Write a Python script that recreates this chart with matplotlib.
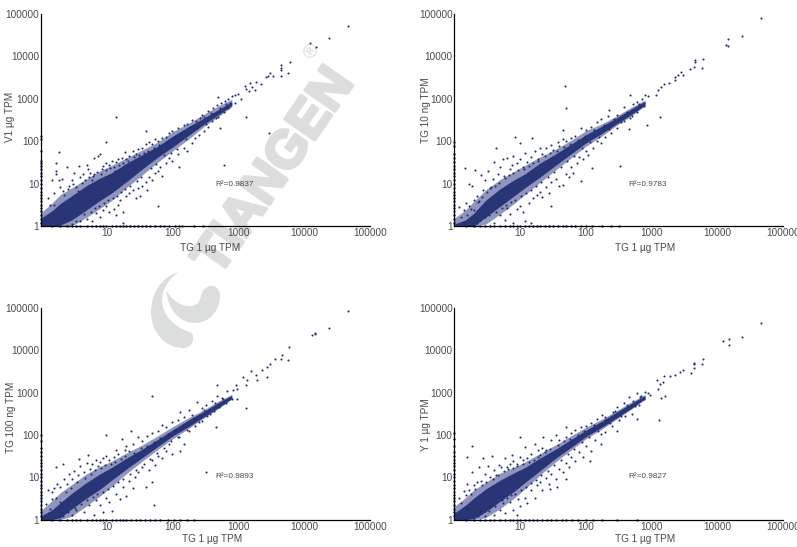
import matplotlib
matplotlib.use('Agg')
import matplotlib.pyplot as plt
import matplotlib.patheffects as pe
from matplotlib.path import Path
from matplotlib.patches import PathPatch

plt.rcParams['font.family'] = ['Liberation Sans', 'DejaVu Sans']

NAVY = '#1f2a6e'
GREY = '#4a4a4a'
MARK = '#dcdedd'
W, H = 797, 547

ticks = [10, 100, 1000, 10000, 100000]
tick_labels = ['10', '100', '1000', '10000', '100000']
y_ticks = [1] + ticks
y_tick_labels = ['1'] + tick_labels
x_title = 'TG 1 µg TPM'
y_titles = ['V1 µg TPM', 'TG 10 ng TPM', 'TG 100 ng TPM', 'Y 1 µg TPM']
r2_labels = ['R²=0.9837', 'R²=0.9783', 'R²=0.9893', 'R²=0.9827']

# outline of the crowded part of each cloud
band_x = [1, 1.5, 2, 3, 5, 8, 12, 20, 35, 60, 100, 180, 300, 500, 800]
outer_lo = [
    [1, 1, 1, 1, 1.6, 2.6, 4, 8, 16, 32, 58, 115, 220, 380, 650],
    [1, 1, 1, 1.1, 1.9, 3.3, 5.5, 10.5, 21, 40, 75, 135, 240, 400, 680],
    [1, 1, 1, 1.2, 2.1, 3.6, 6, 12, 24, 45, 80, 145, 250, 420, 700],
    [1, 1, 1, 1.1, 1.8, 3.1, 5.3, 11, 23, 44, 80, 140, 240, 410, 690],
]
outer_hi = [
    [2, 3.5, 5.5, 8, 13, 20, 27, 40, 62, 95, 165, 270, 430, 680, 980],
    [1.5, 2.4, 3.8, 7, 12.5, 19, 27, 42, 65, 105, 175, 260, 400, 640, 930],
    [1.6, 2.8, 4.3, 6.8, 12, 18, 24, 37, 58, 95, 155, 260, 390, 630, 910],
    [2, 3.3, 5, 7.5, 12.5, 17, 23, 36, 58, 95, 150, 240, 380, 610, 900],
]
core_lo = [
    [1, 1, 1.05, 1.4, 2.4, 4, 6, 11, 22, 42, 72, 140, 250, 420, 700],
    [1, 1, 1, 1.6, 2.9, 5, 8, 14, 27, 50, 90, 155, 260, 430, 720],
    [1, 1, 1.1, 1.8, 3.2, 5.2, 8.5, 15.5, 29, 53, 93, 160, 265, 440, 730],
    [1, 1, 1.05, 1.5, 2.7, 4.5, 7.5, 14, 28, 51, 90, 155, 255, 430, 720],
]
core_hi = [
    [1.5, 2.3, 3.4, 5.2, 9, 13.5, 18, 30, 48, 76, 130, 225, 350, 560, 850],
    [1.1, 1.4, 2, 4, 7.5, 12, 17, 30, 50, 85, 140, 230, 360, 580, 880],
    [1.2, 1.7, 2.5, 4.2, 7.5, 12, 17, 28, 46, 78, 130, 230, 360, 580, 860],
    [1.4, 2.2, 3.2, 5.2, 8.5, 12.5, 17, 28, 46, 78, 128, 215, 350, 560, 850],
]

# single dots round the cloud and the far outliers
dots_a = [
    (46500, 52000), (24000, 27500), (12300, 21000), (15000, 16600), (6150, 7500), (4500, 6300), (4500, 5300),
    (4400, 4800), (5750, 4100), (4500, 3450), (3400, 3500), (2800, 3400), (3000, 4100), (2600, 3200), (2250, 2200),
    (1850, 2500), (1500, 2300), (1300, 1700), (1450, 1500), (1600, 1850), (1800, 1650), (1250, 2000), (1300, 380),
    (2950, 158), (610, 28), (525, 209), (14, 363), (60, 3), (126, 24.5), (40, 177), (10, 97), (1.94, 55), (1.7, 30),
    (1.3, 4.5), (1.4, 3.2), (1.5, 12), (1.6, 6), (1.7, 20), (1.7, 17), (1.9, 12), (2, 8.5), (2.1, 13), (2.3, 5.5),
    (2.5, 25), (2.7, 9), (3, 12), (3.2, 18), (3.5, 8.5), (3.8, 26), (4, 14), (4.4, 17), (4.8, 12), (5, 28), (5.3, 22),
    (5.6, 18), (6, 12), (6.5, 40), (6.5, 17), (7.5, 45), (8, 50), (8.5, 22), (9, 26), (10, 30), (11, 28), (12, 35),
    (13, 24), (14, 32), (15, 38), (17, 40), (19, 55), (20, 38), (22, 45), (25, 60), (28, 50), (30, 65), (35, 70),
    (40, 85), (45, 95), (50, 85), (55, 110), (60, 100), (70, 120), (80, 125), (90, 160), (100, 170), (120, 200),
    (150, 240), (170, 250), (200, 320), (230, 300), (280, 420), (300, 380), (350, 520), (420, 600), (480, 720),
    (500, 1100), (550, 800), (620, 900), (700, 1000), (800, 1150), (900, 1200), (1000, 1300), (3, 1.1), (4, 1.3),
    (5, 1.5), (6, 1.3), (7, 2), (8, 1.6), (9, 2.4), (10, 2.9), (11, 2.1), (13, 2.5), (14, 1.8), (15, 3.2), (16, 4),
    (18, 2.1), (18, 1.2), (20, 5), (22, 6), (25, 7), (28, 4.5), (30, 8), (32, 5), (35, 9), (40, 11), (42, 7), (45, 14),
    (50, 12), (55, 18), (60, 20), (65, 25), (70, 15), (80, 30), (90, 40), (100, 35), (120, 50), (150, 70), (170, 60),
    (200, 90), (220, 120), (250, 140), (300, 170), (350, 220), (400, 300), (500, 380), (600, 500), (700, 620),
    (900, 780), (1100, 1000), (1.6, 3.1), (2.2, 6.7), (2.6, 7.4), (3.1, 9.6), (3.4, 1.3), (3.7, 6.8), (4.2, 10.3),
    (4.6, 1.9), (5.4, 14.6), (5.9, 2.1), (6.3, 15.2), (6.8, 2.7), (7.3, 18.5), (7.8, 3), (8.3, 16.9), (9.3, 3.4),
    (9.7, 21), (10.6, 4), (11.5, 23), (12.4, 4.6), (13.6, 19.7), (14.5, 5.2), (15.7, 28), (16.5, 6.4), (17.6, 30),
    (19, 7.3), (21, 35), (23, 8.8), (26, 42), (29, 11.6), (31, 47), (34, 14.4), (37, 54), (43, 60), (47, 23), (52, 71),
    (57, 29), (63, 82), (74, 47), (84, 92), (95, 54), (108, 128), (118, 66), (135, 155), (160, 112), (185, 215),
    (240, 205), (265, 350), (330, 255), (390, 470), (460, 350), (530, 620), (650, 760), (760, 800),
]
dots_b = [
    (46800, 79000), (23500, 30000), (14800, 25700), (13500, 19000), (14800, 17600), (6000, 8900), (4570, 8200),
    (4570, 7200), (4500, 5700), (5900, 5400), (3870, 5000), (2800, 4370), (2570, 3650), (3000, 3600), (2300, 3200),
    (2300, 2800), (1830, 2300), (1570, 2230), (1400, 1900), (1250, 1600), (1180, 1250), (1330, 365), (850, 240),
    (460, 190), (330, 26), (49, 2000), (51, 600), (45, 183), (8.4, 127), (15.5, 120), (4.4, 70), (10, 92), (30, 3),
    (84, 11.5), (126, 23), (1.47, 23), (1.2, 2.8), (1.4, 2.4), (1.5, 3.5), (1.6, 1.8), (1.7, 10), (1.8, 2.5),
    (1.9, 9), (2, 4.2), (2.1, 21), (2.2, 5), (2.4, 3.8), (2.6, 16), (2.8, 7), (3, 12), (3.3, 20), (3.5, 8), (3.9, 13),
    (4, 33), (4.2, 9), (4.6, 17), (5, 25), (5.5, 38), (5.8, 15), (6.5, 40), (7, 22), (7.5, 28), (8, 45), (9, 30),
    (10, 38), (11, 25), (12, 52), (13, 32), (15, 42), (17, 60), (19, 38), (20, 70), (22, 50), (25, 68), (30, 80),
    (32, 62), (38, 95), (40, 75), (45, 110), (50, 100), (60, 120), (70, 130), (85, 200), (100, 180), (120, 220),
    (150, 280), (170, 330), (220, 390), (230, 540), (300, 420), (380, 640), (470, 1200), (520, 750), (600, 830),
    (720, 1000), (800, 1250), (900, 1150), (2.2, 1.2), (3, 1.6), (4, 1.2), (5, 1.8), (6, 1.4), (6.5, 2.6), (7, 1.9),
    (8, 1.2), (9, 2.5), (10, 3), (11, 2.1), (12, 1.3), (14, 3.5), (15, 1.2), (16, 4.5), (18, 5.5), (20, 6.5), (22, 4.8),
    (25, 8.5), (28, 6), (30, 11), (35, 13), (40, 9), (45, 9.5), (50, 17), (55, 14), (60, 25), (65, 18), (75, 30),
    (80, 42), (90, 38), (100, 60), (110, 48), (130, 70), (150, 100), (170, 90), (200, 125), (240, 160), (300, 200),
    (380, 300), (470, 360), (600, 480), (1.3, 1.6), (1.7, 2.9), (2, 2.4), (2.3, 3.6), (2.5, 1.4), (2.7, 4.9),
    (3.2, 6.2), (3.4, 1.8), (3.7, 8.1), (4.3, 2.1), (4.8, 10.6), (5.3, 2.7), (5.9, 13.4), (6.2, 3.2), (6.9, 15.8),
    (7.4, 3.6), (7.9, 17.7), (8.6, 4.2), (9.4, 20.5), (10.3, 5), (11.4, 22.4), (12.6, 5.9), (13.7, 26), (14.6, 7.1),
    (16, 31), (17.4, 8.6), (18.7, 35), (21, 11.2), (24, 44), (27, 14), (29, 53), (33, 18.6), (37, 60), (42, 24),
    (47, 72), (53, 34), (58, 86), (67, 45), (76, 108), (88, 70), (97, 135), (115, 95), (135, 185), (160, 125),
    (190, 235), (230, 190), (270, 335), (340, 280), (420, 500), (500, 400), (640, 750), (760, 690),
]
dots_c = [
    (46700, 85000), (24000, 34000), (14800, 26000), (14800, 24000), (13200, 22600), (5900, 12000), (4600, 7600),
    (4500, 6300), (5750, 5800), (3600, 6300), (3000, 4800), (2700, 4000), (2300, 3500), (2700, 2400), (1570, 3250),
    (1850, 2550), (1900, 2000), (1350, 2000), (1200, 2300), (1300, 1550), (935, 1550), (950, 720), (1320, 430),
    (465, 155), (50, 830), (475, 1520), (325, 13), (52, 2.2), (10, 98), (23.7, 122), (49, 7.6), (1.2, 2.3), (1.3, 5),
    (1.5, 4.5), (1.5, 3), (1.6, 5.5), (1.7, 17), (1.8, 7), (2, 6), (2.2, 20), (2.3, 9), (2.5, 7), (2.7, 12), (3, 9),
    (3.2, 14), (3.7, 11), (3.8, 27), (4, 18), (4.5, 13), (5, 22), (5.2, 33), (5.6, 16), (6, 20), (7, 26), (7.5, 18),
    (8, 23), (9, 28), (10, 32), (11, 25), (13, 30), (14, 44), (15, 36), (17, 78), (19, 45), (20, 55), (22, 42),
    (25, 60), (30, 90), (35, 70), (42, 95), (50, 110), (60, 125), (70, 170), (80, 150), (100, 200), (120, 230),
    (130, 340), (150, 270), (180, 390), (200, 300), (240, 600), (280, 440), (320, 510), (400, 620), (480, 820),
    (560, 760), (680, 1100), (820, 1150), (950, 1250), (2.2, 1.2), (3, 1.3), (3.5, 1.7), (4.5, 1.5), (5.5, 2.2),
    (6.5, 1.3), (7, 2.9), (8, 2.2), (9, 1.5), (10, 3.2), (11, 2.6), (12, 1.6), (14, 4), (16, 3), (18, 6), (20, 3.6),
    (22, 8), (25, 5.5), (27, 10), (30, 13), (35, 17), (40, 6), (45, 15), (50, 25), (55, 19), (60, 32), (70, 28),
    (80, 42), (90, 60), (100, 35), (120, 90), (130, 42), (150, 62), (180, 125), (220, 160), (280, 210), (340, 280),
    (430, 360), (520, 450), (650, 560), (800, 720), (1.4, 1.8), (1.7, 3.3), (2, 2.6), (2.4, 4.4), (2.6, 1.5),
    (2.9, 5.7), (3.3, 1.9), (3.6, 7.6), (4.1, 2.3), (4.7, 9.8), (5.1, 2.9), (5.8, 11.7), (6.3, 3.4), (6.8, 14.5),
    (7.3, 3.9), (8.2, 16.2), (8.8, 4.5), (9.5, 19), (10.5, 5.3), (11.6, 21), (12.7, 6.2), (13.5, 23.5), (15.2, 7.6),
    (16.4, 27), (17.8, 9.1), (19.4, 31), (23, 12), (26, 38), (28.5, 15), (33, 48), (37, 20), (41, 56), (46, 27),
    (53, 68), (58, 38), (66, 84), (75, 50), (87, 105), (96, 72), (110, 132), (125, 88), (145, 172), (170, 132),
    (210, 245), (250, 205), (300, 380), (370, 310), (450, 560), (590, 720), (730, 700),
]
dots_d = [
    (46700, 44000), (23500, 20400), (15100, 18800), (12300, 16300), (15000, 13100), (6000, 6300), (5900, 4800),
    (4500, 5000), (4500, 4700), (4500, 3900), (4000, 2900), (3000, 3400), (2750, 3100), (2300, 2600), (1900, 2450),
    (1570, 2500), (1200, 2000), (1350, 1570), (1500, 1800), (1250, 1240), (1400, 740), (1630, 820), (1310, 225),
    (610, 235), (300, 124), (172, 60), (115, 24.7), (1.87, 54), (1.6, 29.6), (10, 90), (22.5, 90), (50, 9.3),
    (29, 5.2), (37, 5.9), (1.2, 3.2), (1.4, 4.6), (1.5, 3.8), (1.6, 7), (1.7, 5), (1.9, 13), (2, 6.5), (2.2, 7.5),
    (2.4, 17), (2.6, 8), (2.8, 28), (3, 12), (3.3, 18), (3.5, 10), (3.8, 32), (4, 15), (4.4, 11), (4.8, 19), (5.2, 17),
    (6, 28), (6.5, 17), (7, 20), (7.5, 33), (8, 24), (9, 20), (10, 30), (11, 25), (12, 52), (13, 28), (15, 36),
    (17, 60), (19, 44), (20, 34), (22, 48), (25, 45), (30, 75), (35, 100), (40, 75), (50, 90), (50, 150), (60, 110),
    (70, 130), (85, 150), (100, 165), (120, 190), (150, 240), (180, 300), (200, 260), (260, 350), (300, 450),
    (380, 560), (450, 800), (520, 650), (600, 1000), (700, 850), (800, 1050), (950, 900), (2.3, 1.2), (2.6, 1.6),
    (3, 1.2), (3.5, 2), (4, 1.3), (5, 1.7), (5.5, 2.4), (6, 1.4), (7, 2.6), (8, 1.7), (9, 1.3), (9.5, 3), (10, 2.1),
    (12, 3.2), (13, 2.4), (15, 5), (17, 3.3), (18, 6.5), (20, 7.5), (22, 5), (25, 9.5), (28, 7), (30, 12), (35, 9),
    (40, 16), (45, 13), (50, 22), (55, 17), (60, 30), (70, 24), (80, 40), (90, 30), (100, 55), (120, 42), (140, 75),
    (170, 105), (200, 120), (250, 165), (320, 220), (400, 280), (500, 310), (640, 520), (780, 700), (1.3, 2.4),
    (1.6, 1.9), (1.8, 4.1), (2.1, 5.3), (2.5, 1.4), (2.7, 6.4), (3.1, 7.7), (3.4, 1.6), (3.9, 9.2), (4.2, 2.1),
    (4.6, 11.3), (5.3, 2.9), (5.7, 13.8), (6.3, 3.3), (6.7, 15.6), (7.3, 3.7), (7.8, 16.5), (8.5, 4.1), (9.2, 18.4),
    (10.4, 4.9), (11.3, 20.6), (12.4, 6), (13.6, 22.8), (14.7, 7.3), (16.2, 26), (17.6, 8.4), (19.2, 30), (21, 11),
    (24, 39), (26.5, 14), (29, 47), (33, 19), (38, 58), (43, 26), (47, 70), (54, 36), (58, 82), (66, 47), (76, 100),
    (88, 68), (96, 125), (112, 88), (135, 170), (155, 125), (195, 225), (235, 195), (280, 370), (350, 285), (420, 500),
    (560, 480), (670, 780), (900, 1000),
]
dots_all = [dots_a, dots_b, dots_c, dots_d]

# dots lying on the axis lines
floor_x = [
    [1.5, 2, 2.5, 3, 3.5, 4, 5, 6, 7, 8, 9, 10, 12, 14, 16, 18, 20, 23, 26, 30, 35, 40, 46, 55, 65, 75, 90, 110, 125, 140, 210, 290],
    [1.5, 2, 2.5, 3, 3.5, 4, 5, 6, 7, 8, 9, 10, 12, 14, 16, 18, 20, 24, 28, 32, 38, 45, 50, 60, 70, 85, 100, 125, 180, 240, 320],
    [1.5, 2, 2.5, 3, 3.5, 4, 5, 6, 7, 8, 9, 10, 12, 14, 16, 18, 20, 24, 28, 32, 38, 46, 55, 65, 85, 105, 130, 170, 210],
    [1.5, 2, 2.5, 3, 3.5, 4, 5, 6, 7, 8, 9, 10, 12, 14, 16, 18, 22, 26, 30, 36, 44, 50, 62, 78, 100, 130, 180, 300, 600],
]
wall_y = [
    [1.2, 1.5, 1.8, 2.2, 2.7, 3.2, 3.8, 4.5, 5.5, 6.5, 8, 10, 12, 15, 18, 22, 26, 30, 34, 60, 110, 130],
    [1.2, 1.5, 1.8, 2.2, 2.7, 3.2, 3.8, 4.5, 5.5, 6.5, 8, 10, 12, 15, 18, 22, 26, 32, 40, 50, 75, 95],
    [1.2, 1.5, 1.8, 2.2, 2.7, 3.2, 3.8, 4.5, 5.5, 6.5, 8, 10, 12, 15, 18, 22, 26, 32, 40, 50, 70, 100],
    [1.2, 1.5, 1.8, 2.2, 2.7, 3.2, 3.8, 4.5, 5.5, 6.5, 8, 10, 12, 15, 18, 22, 26, 32, 40, 55, 80, 110],
]

# left, right, top, bottom of each panel, pixels
boxes = [(40.5, 370, 14, 226), (454, 783, 14, 226), (40.5, 370, 308, 519.5), (454, 783, 308, 519.5)]
r2_px = [(235, 184), (648, 184), (235, 477), (648, 477)]
xlabel_px = [(210, 248), (645, 248), (212, 539), (645, 539)]
ylabel_px = [(10, 117), (426, 110), (11, 417), (426, 425)]

fig = plt.figure(figsize=(W / 100, H / 100), dpi=100, facecolor='white')

# watermark goes under the panels
bg = fig.add_axes([0, 0, 1, 1], zorder=0)
bg.set_xlim(0, W)
bg.set_ylim(H, 0)
bg.axis('off')
MV, CV, CL = Path.MOVETO, Path.CURVE4, Path.CLOSEPOLY
swirl_a = [(178, 272), (160, 278), (151, 295), (151, 312), (151, 332), (165, 348), (183, 348), (190, 348), (194, 343),
           (193, 336), (192, 333), (191, 332), (190, 332), (175, 328), (162, 315), (162, 300), (162, 290), (168, 280),
           (178, 272), (178, 272)]
swirl_b = [(166, 290), (168, 310), (180, 323), (195, 323), (210, 323), (220, 310), (220, 296), (220, 289), (215, 285),
           (210, 286), (205, 287), (202, 291), (201, 296), (200, 303), (195, 307), (188, 306), (178, 305), (170, 298),
           (166, 290), (166, 290)]
for pts in (swirl_a, swirl_b):
    codes = [MV] + [CV] * (len(pts) - 2) + [CL]
    bg.add_patch(PathPatch(Path(pts, codes), fc=MARK, ec='none'))
wm = bg.text(275, 172, 'TIANGEN', rotation=55, rotation_mode='anchor', ha='center', va='center', fontsize=38,
             fontweight='bold', color=MARK)
wm.set_path_effects([pe.withStroke(linewidth=2.5, foreground=MARK)])
bg.text(312, 51, '®', rotation=55, rotation_mode='anchor', ha='center', va='center', fontsize=14, color=MARK)

for i, (l, r, t, b) in enumerate(boxes):
    ax = fig.add_axes([l / W, 1 - b / H, (r - l) / W, (b - t) / H], zorder=1)
    ax.patch.set_alpha(0)
    ax.set_xscale('log')
    ax.set_yscale('log')
    ax.set_xlim(1, 100000)
    ax.set_ylim(1, 100000)

    ax.fill_between(band_x, outer_lo[i], outer_hi[i], color='#8f95bd', lw=0, zorder=2)
    ax.fill_between(band_x, core_lo[i], core_hi[i], color='#2a3578', lw=0, zorder=3)

    xs = [p[0] for p in dots_all[i]]
    ys = [p[1] for p in dots_all[i]]
    ax.scatter(xs, ys, s=2.2, color=NAVY, lw=0, zorder=4)
    ax.scatter(floor_x[i], [1] * len(floor_x[i]), s=3, color=NAVY, lw=0, zorder=4, clip_on=False)
    ax.scatter([1] * len(wall_y[i]), wall_y[i], s=3, color=NAVY, lw=0, zorder=4, clip_on=False)

    for side in ['top', 'right']:
        ax.spines[side].set_visible(False)
    for side in ['left', 'bottom']:
        ax.spines[side].set_linewidth(0.9)
        ax.spines[side].set_color('black')
        ax.spines[side].set_zorder(5)

    ax.set_xticks(ticks)
    ax.set_xticklabels(tick_labels)
    ax.set_yticks(y_ticks)
    ax.set_yticklabels(y_tick_labels)
    ax.minorticks_off()
    ax.tick_params(axis='x', length=0, pad=1.5, labelsize=7.2, labelcolor=GREY)
    ax.tick_params(axis='y', length=0, pad=1, labelsize=7.2, labelcolor=GREY)

    bg.text(r2_px[i][0], r2_px[i][1], r2_labels[i], ha='center', va='center', fontsize=5.9, color=GREY)
    bg.text(xlabel_px[i][0], xlabel_px[i][1], x_title, ha='center', va='center', fontsize=7.2, color=GREY)
    bg.text(ylabel_px[i][0], ylabel_px[i][1], y_titles[i], ha='center', va='center', rotation=90, fontsize=7.2,
            color=GREY)

fig.savefig('out.png', dpi=100)
